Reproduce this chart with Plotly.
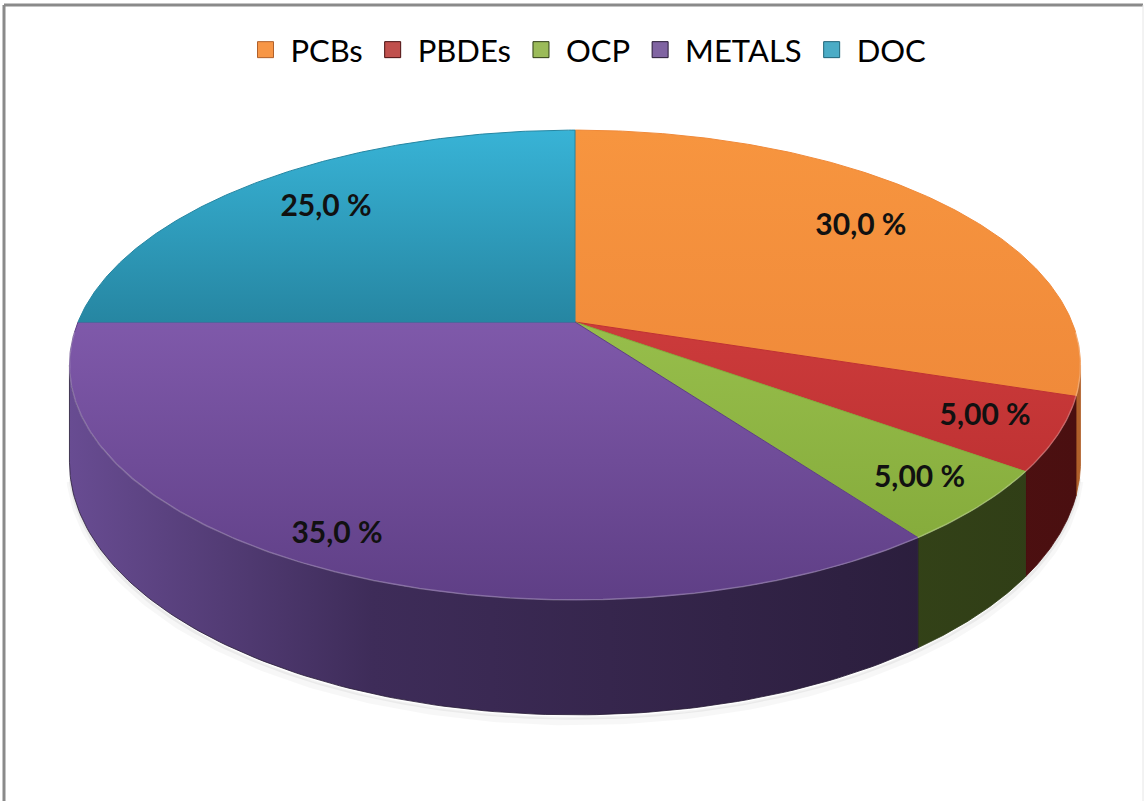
import numpy as np
import plotly.graph_objects as go

# ---------------- data ----------------
categories = ["PCBs", "PBDEs", "OCP", "METALS", "DOC"]
shares = [30.0, 5.0, 5.0, 35.0, 25.0]
label_texts = ["30,0 %", "5,00 %", "5,00 %", "35,0 %", "25,0 %"]

# ---------------- style ----------------
legend_colors = ["#F79646", "#C0504D", "#9BBB59", "#8064A2", "#4BACC6"]
top_colors = [("#F08A3A", "#F7953F"),   # (bottom, top) vertical gradient
              ("#BF3233", "#CC3B3B"),
              ("#86AC3C", "#97BE4B"),
              ("#5F3F86", "#7F59AA"),
              ("#2686A2", "#38B3D6")]
side_scales = [[[0, "#C8712C"], [1, "#B0602A"]],
               [[0, "#6A1A1A"], [1, "#4A0F10"]],
               [[0, "#46571F"], [1, "#2F3D16"]],
               [[0, "#684C92"], [0.3, "#3E2C59"], [1, "#261A35"]],
               [[0, "#2A7D96"], [1, "#1F6478"]]]
label_radius = [0.77, 0.86, 0.87, 0.90, 0.78]

K = 0.183        # perspective strength
DEPTH = 0.414    # thickness of the pie (unit of the vertical radius)
CX_PX, CY_PX, RX_PX, RY_PX = 575, 322, 497, 227
W, H = 1148, 801


def proj(theta_deg, r=1.0, drop=0.0):
    t = np.radians(theta_deg)
    u = r * np.sin(t)
    v = r * np.cos(t)
    w = 1 + K * v
    return u / w, (v - drop) / w


fig = go.Figure()

total = sum(shares)
bounds = np.concatenate([[0], np.cumsum(shares)]) / total * 360.0

vis_a, vis_b = 90 + np.degrees(np.arcsin(K)), 270 - np.degrees(np.arcsin(K))
xext = 1 / np.sqrt(1 - K ** 2)

# soft shadow under the front edge
th = np.linspace(vis_a + 3, vis_b - 3, 300)
for dd, al, wd in [(0.025, 0.03, 7), (0.012, 0.05, 3)]:
    xs_, ys_ = proj(th, drop=DEPTH + dd)
    fig.add_trace(go.Scatter(x=xs_, y=ys_, mode="lines",
                             line=dict(color=f"rgba(0,0,0,{al})", width=wd),
                             showlegend=False, hoverinfo="skip"))

# side faces (front half only)
for i, cat in enumerate(categories):
    a, b = max(bounds[i], vis_a), min(bounds[i + 1], vis_b)
    if b <= a:
        continue
    th = np.linspace(a, b, 120)
    xt, yt = proj(th)
    xb, yb = proj(th[::-1], drop=DEPTH)
    xs = np.concatenate([xt, xb, xt[:1]])
    ys = np.concatenate([yt, yb, yt[:1]])
    fig.add_trace(go.Scatter(
        x=xs, y=ys, mode="lines", fill="toself",
        line=dict(width=0.8, color=side_scales[i][-1][1]),
        fillgradient=dict(type="horizontal", start=-xext, stop=xext,
                          colorscale=side_scales[i]),
        showlegend=False, hoverinfo="skip"))

# top faces
for i, cat in enumerate(categories):
    th = np.linspace(bounds[i], bounds[i + 1], 200)
    xa, ya = proj(th)
    xs = np.concatenate([[0], xa, [0]])
    ys = np.concatenate([[0], ya, [0]])
    dc, lc = top_colors[i]
    fig.add_trace(go.Scatter(
        x=xs, y=ys, mode="lines", fill="toself",
        line=dict(width=1, color=dc),
        fillgradient=dict(type="vertical", colorscale=[[0, dc], [1, lc]]),
        showlegend=False, hoverinfo="skip"))

# rim highlight on the front edge
th = np.linspace(vis_a - 8, vis_b + 8, 300)
xr, yr = proj(th)
fig.add_trace(go.Scatter(x=xr, y=yr, mode="lines",
                         line=dict(color="rgba(255,255,255,0.25)", width=1.5),
                         showlegend=False, hoverinfo="skip"))

# data labels
mids = (bounds[:-1] + bounds[1:]) / 2
lx, ly = [], []
for i in range(len(categories)):
    x0, y0 = proj(mids[i], r=label_radius[i])
    lx.append(x0)
    ly.append(y0)
fig.add_trace(go.Scatter(
    x=lx, y=ly, mode="text", text=label_texts,
    textfont=dict(family="Lato", size=30, color="#111111", weight="bold"),
    showlegend=False, hoverinfo="skip"))

# legend entries
for i, cat in enumerate(categories):
    fig.add_trace(go.Scatter(
        x=[None], y=[None], mode="markers", name=cat,
        marker=dict(symbol="square", size=16, color=legend_colors[i],
                    line=dict(color=side_scales[i][-1][1], width=1))))

fig.update_layout(
    width=W, height=H,
    margin=dict(l=0, r=0, t=0, b=0),
    paper_bgcolor="white", plot_bgcolor="white",
    xaxis=dict(range=[-CX_PX / RX_PX, (W - CX_PX) / RX_PX], visible=False, fixedrange=True),
    yaxis=dict(range=[(CY_PX - H) / RY_PX, CY_PX / RY_PX], visible=False, fixedrange=True),
    legend=dict(orientation="h", x=586 / W, xanchor="center", y=1 - 50 / H, yanchor="middle",
                itemwidth=40,
                font=dict(family="Lato", size=31, color="#000000"),
                bgcolor="rgba(0,0,0,0)", itemclick=False, itemdoubleclick=False),
    shapes=[
        dict(type="line", xref="paper", yref="paper", x0=4 / W, x1=1143 / W,
             y0=1 - 5 / H, y1=1 - 5 / H, line=dict(color="#8A8A8A", width=3)),
        dict(type="line", xref="paper", yref="paper", x0=4 / W, x1=4 / W,
             y0=0, y1=1 - 5 / H, line=dict(color="#8A8A8A", width=3)),
        dict(type="line", xref="paper", yref="paper", x0=1143 / W, x1=1143 / W,
             y0=0, y1=1 - 5 / H, line=dict(color="#E6E6E6", width=1)),
    ],
)

fig.write_html("out.html", config={"displayModeBar": False},
               post_script="document.body.style.margin='0';")
